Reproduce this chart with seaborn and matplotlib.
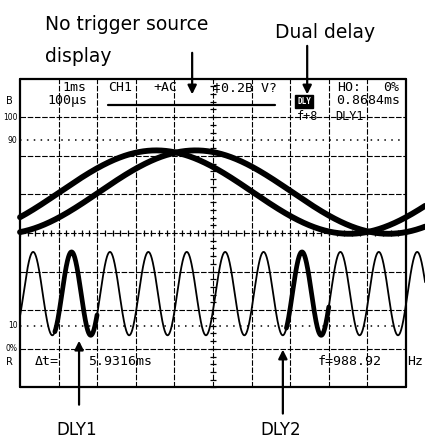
import numpy as np
import pandas as pd
import matplotlib
matplotlib.use("Agg")
import matplotlib.pyplot as plt
import seaborn as sns

# Readings in screen divisions (10 x 8 graticule, centre of screen = 0, 0)
slow_level = 1.06
slow_amp = 1.08
slow_period = 10.0
slow_rise_cross = [1.03, 2.05]          # main sweep trace and its delayed copy
fast_level = -1.57
fast_amp = 1.08
fast_period = 0.995
fast_first_peak = 0.34
delay_windows = [(0.9, 2.0), (6.9, 8.0)]  # intensified parts of the fast trace
delay_marks = [1.53, 6.81]
delay_names = ["DLY1", "DLY2"]

# On-screen readouts
readout_top = ["1ms", "CH1", "+AC", "‡0.2B V?", "HO:", "0%"]
readout_mid = ["100μs", "0.8684ms"]
readout_sub = ["f+8", "DLY1"]
readout_bottom = ["Δt=", "5.9316ms", "f=988.92", "Hz"]
level_labels = ["100", "90", "10", "0%"]
level_values = [3.0, 2.4, -2.4, -3.0]

notes = ["No trigger source", "display", "Dual delay"]

sns.set_theme(style="white")
plt.rcParams["font.family"] = ["DejaVu Sans"]

PX = 38.6  # pixels per division
fig = plt.figure(figsize=(4.25, 4.4), dpi=100)
ax = fig.add_axes([0, 0, 1, 1])

# graticule
for gx in range(11):
    edge = gx in (0, 10)
    ax.plot([gx, gx], [-4, 4], color="black", lw=1.6 if edge else 0.8,
            ls="-" if edge else (0, (5, 1.5)))
for gy in range(-4, 5):
    edge = gy in (-4, 4)
    ax.plot([0, 10], [gy, gy], color="black", lw=1.6 if edge else 0.8,
            ls="-" if edge else (0, (5, 1.5)))
for gy in (2.4, -2.4):
    ax.plot([0, 10], [gy, gy], color="black", lw=1.1, ls=(0, (1, 3.5)))
ax.plot(np.full(41, 5.0), np.linspace(-4, 4, 41), ls="none", marker="_",
        ms=4, mew=0.9, color="black")
ax.plot(np.linspace(0, 10, 51), np.zeros(51), ls="none", marker="|",
        ms=4, mew=0.9, color="black")

# traces
t = np.linspace(0, 10.5, 2000)
for c in slow_rise_cross:
    df = pd.DataFrame({"t": t,
                       "v": slow_level + slow_amp * np.sin(2 * np.pi * (t - c) / slow_period)})
    sns.lineplot(data=df, x="t", y="v", ax=ax, color="black", lw=4.2,
                 estimator=None, sort=False)

fast = pd.DataFrame({"t": t,
                     "v": fast_level + fast_amp * np.cos(2 * np.pi * (t - fast_first_peak) / fast_period)})
sns.lineplot(data=fast, x="t", y="v", ax=ax, color="black", lw=1.3,
             estimator=None, sort=False)
for lo, hi in delay_windows:
    part = fast[(fast["t"] >= lo) & (fast["t"] <= hi)]
    sns.lineplot(data=part, x="t", y="v", ax=ax, color="black", lw=3.4,
                 estimator=None, sort=False)
ax.set_xlim(-20 / PX, 405 / PX)
ax.set_ylim(-207 / PX, 233 / PX)
ax.set_axis_off()

# readouts inside the screen
mono = dict(family="DejaVu Sans Mono", fontsize=9.5, color="black", va="center")
for txt, x in zip(readout_top, [1.09, 2.28, 3.45, 5.0, 8.21, 9.40]):
    ax.text(x, 3.78, txt, **mono)
ax.text(0.70, 3.43, readout_mid[0], **mono)
ax.text(8.19, 3.43, readout_mid[1], **mono)
ax.plot([2.28, 6.61], [3.32, 3.32], color="black", lw=1.6)
ax.text(7.36, 3.40, "DLY", family="DejaVu Sans Mono", fontsize=5.5,
        color="white", ha="center", va="center", fontweight="bold",
        bbox=dict(boxstyle="square,pad=0.25", fc="black", ec="black"))
for txt, x in zip(readout_sub, [7.18, 8.16]):
    ax.text(x, 3.03, txt, family="DejaVu Sans Mono", fontsize=8.5,
            color="black", va="center")
for txt, x in zip(readout_bottom, [0.39, 1.76, 7.72, 10.03]):
    ax.text(x, -3.34, txt, **mono)
for txt, y in zip(level_labels, level_values):
    ax.text(-0.06, y, txt, fontsize=5.5, ha="right", va="center", color="black")
ax.text(-0.35, -3.34, "R", fontsize=7, va="center", color="black")
ax.text(-0.35, 3.43, "B", fontsize=7, va="center", color="black")

# annotations outside the screen
ax.text(0.65, 5.26, notes[0], fontsize=13.5, va="baseline", color="black")
ax.text(0.65, 4.43, notes[1], fontsize=13.5, va="baseline", color="black")
ax.text(6.61, 5.05, notes[2], fontsize=13.5, va="baseline", color="black")
arrow = dict(arrowstyle="-|>", color="black", lw=1.6, mutation_scale=13)
ax.annotate("", xy=(4.46, 3.52), xytext=(4.46, 4.74), arrowprops=arrow,
            annotation_clip=False)
ax.annotate("", xy=(7.44, 3.52), xytext=(7.44, 4.92), arrowprops=arrow,
            annotation_clip=False)
for x, name, top in zip(delay_marks, delay_names, [-2.72, -2.95]):
    ax.annotate("", xy=(x, top), xytext=(x, top - 1.8), arrowprops=arrow,
                annotation_clip=False)
    ax.text(x - 0.05, -5.1, name, fontsize=12, ha="center", va="center",
            color="black")

fig.savefig("out.png", dpi=100, facecolor="white")
